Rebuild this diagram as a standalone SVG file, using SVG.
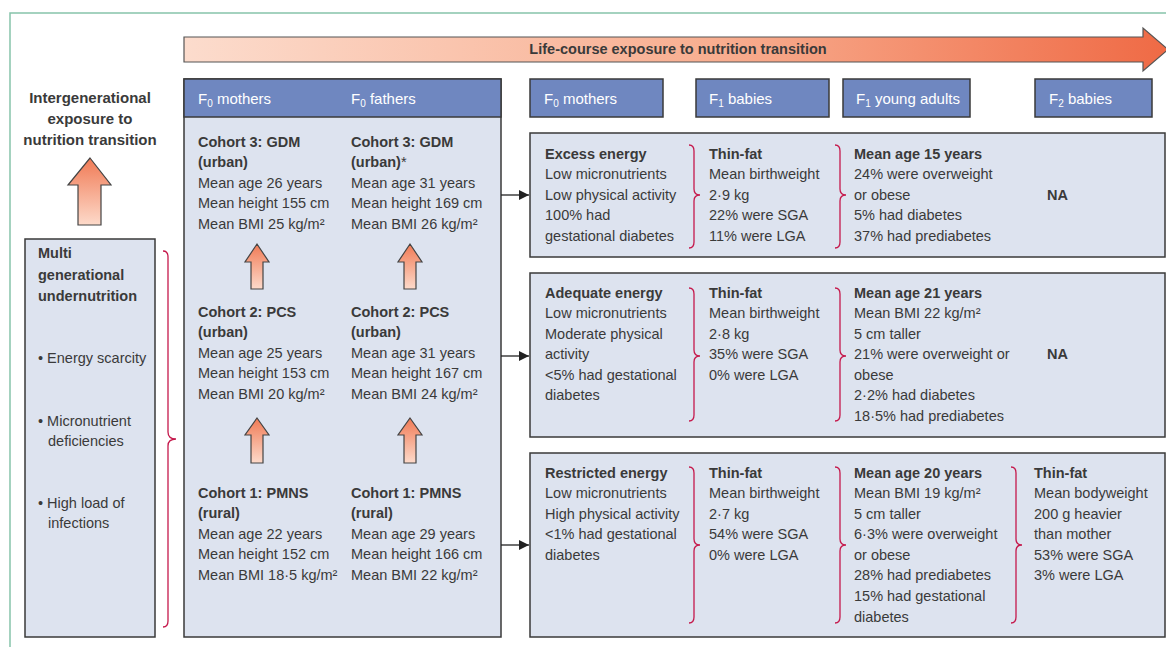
<svg xmlns="http://www.w3.org/2000/svg" width="1166" height="647" viewBox="0 0 1166 647">
<defs>
<linearGradient id="gTop" x1="0" y1="0" x2="1" y2="0">
<stop offset="0" stop-color="#fcdccd"/>
<stop offset="0.55" stop-color="#f8ad8f"/>
<stop offset="1" stop-color="#ef6a45"/>
</linearGradient>
<linearGradient id="gUp" x1="0" y1="0" x2="0" y2="1">
<stop offset="0" stop-color="#f07a55"/>
<stop offset="1" stop-color="#fddaca"/>
</linearGradient>
<marker id="ah" markerWidth="10" markerHeight="10" refX="10" refY="5" orient="auto" markerUnits="userSpaceOnUse">
<path d="M0,0 L10,5 L0,10 Z" fill="#222"/>
</marker>
<style>
.t{font-family:"Liberation Sans",Arial,sans-serif;font-size:14.5px;fill:#3a3a3a}
.b{font-weight:bold}
.h{font-family:"Liberation Sans",Arial,sans-serif;font-size:15px;fill:#ffffff}
.box{fill:#dde3ef;stroke:#3a3a3a;stroke-width:1.5}
.hdr{fill:#6f87c0;stroke:#3a3a3a;stroke-width:1.5}
.brace{fill:none;stroke:#c5194c;stroke-width:1.3}
.up{fill:url(#gUp);stroke:#444;stroke-width:1.2}
.con{stroke:#222;stroke-width:1.3;fill:none}
.sub{font-size:10px}
</style>
</defs>
<rect width="1166" height="647" fill="#ffffff"/>
<path d="M10,647 L10,13 L1166,13" fill="none" stroke="#86c3aa" stroke-width="1.5"/>

<g id="life-course-arrow">
<path d="M184,37 L1143,37 L1143,28 L1168,49.5 L1143,71 L1143,62 L184,62 Z" fill="url(#gTop)" stroke="#555" stroke-width="1.2"/>
<text class="t b" x="678" y="54" text-anchor="middle">Life-course exposure to nutrition transition</text>
</g>

<g id="intergenerational-label">
<text class="t b" x="90" y="103" text-anchor="middle" style="font-size:15px">Intergenerational</text>
<text class="t b" x="90" y="124" text-anchor="middle" style="font-size:15px">exposure to</text>
<text class="t b" x="90" y="145" text-anchor="middle" style="font-size:15px">nutrition transition</text>
<path class="up" d="M90,158 L111,185 L101,185 L101,225 L78,225 L78,185 L68,185 Z"/>
</g>

<g id="undernutrition">
<rect class="box" x="25" y="239" width="130" height="398"/>
<text class="t b" x="38" y="258">Multi</text>
<text class="t b" x="38" y="280">generational</text>
<text class="t b" x="38" y="301">undernutrition</text>
<text class="t" x="38" y="363">• Energy scarcity</text>
<text class="t" x="38" y="426">• Micronutrient</text>
<text class="t" x="48" y="446">deficiencies</text>
<text class="t" x="38" y="508">• High load of</text>
<text class="t" x="48" y="528">infections</text>
<path class="brace" d="M163,251 Q168,251 168,257 L168,432 Q168,439 176,439 Q168,439 168,446 L168,621 Q168,627 163,627"/>
</g>

<g id="f0-cohorts">
<rect class="box" x="184" y="79" width="317" height="558"/>
<rect class="hdr" x="184" y="79" width="317" height="38"/>
<text class="h" x="198" y="104">F<tspan class="sub" dy="3">0</tspan><tspan dy="-3"> mothers</tspan></text>
<text class="h" x="351" y="104">F<tspan class="sub" dy="3">0</tspan><tspan dy="-3"> fathers</tspan></text>
<g id="cohort3-mothers">
<text class="t b" x="198" y="147">Cohort 3: GDM</text>
<text class="t b" x="198" y="167">(urban)</text>
<text class="t" x="198" y="188">Mean age 26 years</text>
<text class="t" x="198" y="208">Mean height 155 cm</text>
<text class="t" x="198" y="229">Mean BMI 25 kg/m²</text>
</g>
<g id="cohort3-fathers">
<text class="t b" x="351" y="147">Cohort 3: GDM</text>
<text class="t b" x="351" y="167">(urban)<tspan style="font-weight:normal">*</tspan></text>
<text class="t" x="351" y="188">Mean age 31 years</text>
<text class="t" x="351" y="208">Mean height 169 cm</text>
<text class="t" x="351" y="229">Mean BMI 26 kg/m²</text>
</g>
<g id="cohort2-mothers">
<text class="t b" x="198" y="317">Cohort 2: PCS</text>
<text class="t b" x="198" y="337">(urban)</text>
<text class="t" x="198" y="358">Mean age 25 years</text>
<text class="t" x="198" y="378">Mean height 153 cm</text>
<text class="t" x="198" y="399">Mean BMI 20 kg/m²</text>
</g>
<g id="cohort2-fathers">
<text class="t b" x="351" y="317">Cohort 2: PCS</text>
<text class="t b" x="351" y="337">(urban)</text>
<text class="t" x="351" y="358">Mean age 31 years</text>
<text class="t" x="351" y="378">Mean height 167 cm</text>
<text class="t" x="351" y="399">Mean BMI 24 kg/m²</text>
</g>
<g id="cohort1-mothers">
<text class="t b" x="198" y="498">Cohort 1: PMNS</text>
<text class="t b" x="198" y="518">(rural)</text>
<text class="t" x="198" y="539">Mean age 22 years</text>
<text class="t" x="198" y="559">Mean height 152 cm</text>
<text class="t" x="198" y="580">Mean BMI 18·5 kg/m²</text>
</g>
<g id="cohort1-fathers">
<text class="t b" x="351" y="498">Cohort 1: PMNS</text>
<text class="t b" x="351" y="518">(rural)</text>
<text class="t" x="351" y="539">Mean age 29 years</text>
<text class="t" x="351" y="559">Mean height 166 cm</text>
<text class="t" x="351" y="580">Mean BMI 22 kg/m²</text>
</g>
</g>

<g id="headers-right">
<rect class="hdr" x="530" y="79" width="133" height="38"/>
<text class="h" x="544" y="104">F<tspan class="sub" dy="3">0</tspan><tspan dy="-3"> mothers</tspan></text>
<rect class="hdr" x="696" y="79" width="133" height="38"/>
<text class="h" x="709" y="104">F<tspan class="sub" dy="3">1</tspan><tspan dy="-3"> babies</tspan></text>
<rect class="hdr" x="843" y="79" width="127" height="38"/>
<text class="h" x="856" y="104">F<tspan class="sub" dy="3">1</tspan><tspan dy="-3"> young adults</tspan></text>
<rect class="hdr" x="1035" y="79" width="117" height="38"/>
<text class="h" x="1049" y="104">F<tspan class="sub" dy="3">2</tspan><tspan dy="-3"> babies</tspan></text>
</g>

<g id="panel-excess">
<rect class="box" x="530" y="133" width="635" height="124"/>
<text class="t b" x="545" y="159">Excess energy</text>
<text class="t" x="545" y="179">Low micronutrients</text>
<text class="t" x="545" y="200">Low physical activity</text>
<text class="t" x="545" y="220">100% had</text>
<text class="t" x="545" y="241">gestational diabetes</text>
<path class="brace" d="M689,145 Q694,145 694,151 L694,189 Q694,195 700,195 Q694,195 694,201 L694,242 Q694,248 689,248"/>
<text class="t b" x="709" y="159">Thin-fat</text>
<text class="t" x="709" y="179">Mean birthweight</text>
<text class="t" x="709" y="200">2·9 kg</text>
<text class="t" x="709" y="220">22% were SGA</text>
<text class="t" x="709" y="241">11% were LGA</text>
<path class="brace" d="M835,145 Q840,145 840,151 L840,189 Q840,195 846,195 Q840,195 840,201 L840,242 Q840,248 835,248"/>
<text class="t b" x="854" y="159">Mean age 15 years</text>
<text class="t" x="854" y="179">24% were overweight</text>
<text class="t" x="854" y="200">or obese</text>
<text class="t" x="854" y="220">5% had diabetes</text>
<text class="t" x="854" y="241">37% had prediabetes</text>
<text class="t b" x="1047" y="200">NA</text>
</g>

<g id="panel-adequate">
<rect class="box" x="530" y="273" width="635" height="164"/>
<text class="t b" x="545" y="298">Adequate energy</text>
<text class="t" x="545" y="318">Low micronutrients</text>
<text class="t" x="545" y="339">Moderate physical</text>
<text class="t" x="545" y="359">activity</text>
<text class="t" x="545" y="380">&lt;5% had gestational</text>
<text class="t" x="545" y="400">diabetes</text>
<path class="brace" d="M689,288 Q694,288 694,294 L694,350 Q694,356 700,356 Q694,356 694,362 L694,415 Q694,421 689,421"/>
<text class="t b" x="709" y="298">Thin-fat</text>
<text class="t" x="709" y="318">Mean birthweight</text>
<text class="t" x="709" y="339">2·8 kg</text>
<text class="t" x="709" y="359">35% were SGA</text>
<text class="t" x="709" y="380">0% were LGA</text>
<path class="brace" d="M835,288 Q840,288 840,294 L840,350 Q840,356 846,356 Q840,356 840,362 L840,415 Q840,421 835,421"/>
<text class="t b" x="854" y="298">Mean age 21 years</text>
<text class="t" x="854" y="318">Mean BMI 22 kg/m²</text>
<text class="t" x="854" y="339">5 cm taller</text>
<text class="t" x="854" y="359">21% were overweight or</text>
<text class="t" x="854" y="380">obese</text>
<text class="t" x="854" y="400">2·2% had diabetes</text>
<text class="t" x="854" y="421">18·5% had prediabetes</text>
<text class="t b" x="1047" y="359">NA</text>
</g>

<g id="panel-restricted">
<rect class="box" x="530" y="453" width="635" height="184"/>
<text class="t b" x="545" y="478">Restricted energy</text>
<text class="t" x="545" y="498">Low micronutrients</text>
<text class="t" x="545" y="519">High physical activity</text>
<text class="t" x="545" y="539">&lt;1% had gestational</text>
<text class="t" x="545" y="560">diabetes</text>
<path class="brace" d="M689,467 Q694,467 694,473 L694,539 Q694,545 700,545 Q694,545 694,551 L694,617 Q694,623 689,623"/>
<text class="t b" x="709" y="478">Thin-fat</text>
<text class="t" x="709" y="498">Mean birthweight</text>
<text class="t" x="709" y="519">2·7 kg</text>
<text class="t" x="709" y="539">54% were SGA</text>
<text class="t" x="709" y="560">0% were LGA</text>
<path class="brace" d="M835,467 Q840,467 840,473 L840,539 Q840,545 846,545 Q840,545 840,551 L840,617 Q840,623 835,623"/>
<text class="t b" x="854" y="478">Mean age 20 years</text>
<text class="t" x="854" y="498">Mean BMI 19 kg/m²</text>
<text class="t" x="854" y="519">5 cm taller</text>
<text class="t" x="854" y="539">6·3% were overweight</text>
<text class="t" x="854" y="560">or obese</text>
<text class="t" x="854" y="580">28% had prediabetes</text>
<text class="t" x="854" y="601">15% had gestational</text>
<text class="t" x="854" y="622">diabetes</text>
<path class="brace" d="M1011,467 Q1016,467 1016,473 L1016,539 Q1016,545 1022,545 Q1016,545 1016,551 L1016,617 Q1016,623 1011,623"/>
<text class="t b" x="1034" y="478">Thin-fat</text>
<text class="t" x="1034" y="498">Mean bodyweight</text>
<text class="t" x="1034" y="519">200 g heavier</text>
<text class="t" x="1034" y="539">than mother</text>
<text class="t" x="1034" y="560">53% were SGA</text>
<text class="t" x="1034" y="580">3% were LGA</text>
</g>

<g id="connectors">
<line class="con" x1="501" y1="195" x2="529" y2="195" marker-end="url(#ah)"/>
<line class="con" x1="501" y1="356" x2="529" y2="356" marker-end="url(#ah)"/>
<line class="con" x1="501" y1="545" x2="529" y2="545" marker-end="url(#ah)"/>
<path class="up" d="M257,244 L269,262 L263,262 L263,289 L251,289 L251,262 L245,262 Z"/>
<path class="up" d="M410,244 L422,262 L416,262 L416,289 L404,289 L404,262 L398,262 Z"/>
<path class="up" d="M257,418 L269,435 L263,435 L263,463 L251,463 L251,435 L245,435 Z"/>
<path class="up" d="M410,418 L422,435 L416,435 L416,463 L404,463 L404,435 L398,435 Z"/>
</g>
</svg>
